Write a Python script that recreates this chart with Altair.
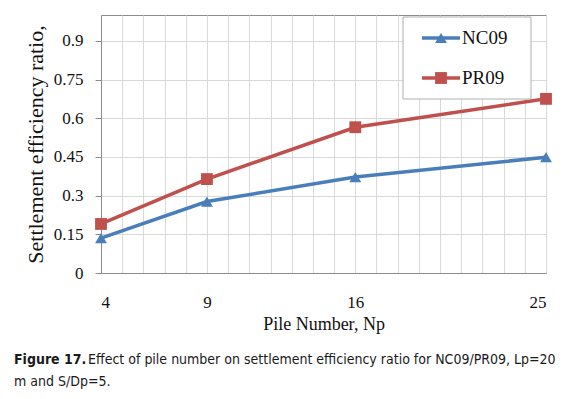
import altair as alt
import pandas as pd

pile_numbers = [4, 9, 16, 25]
series_names = ["NC09", "PR09"]
nc09 = [0.135, 0.277, 0.372, 0.449]
pr09 = [0.19, 0.364, 0.565, 0.675]
y_ticks = [0, 0.15, 0.3, 0.45, 0.6, 0.75, 0.9]
x_grid = list(range(4, 26))

colors = ["#4A7EBB", "#C0504D"]
shapes = ["triangle-up", "square"]

rows = []
for name, vals in zip(series_names, [nc09, pr09]):
    for n, v in zip(pile_numbers, vals):
        rows.append({"series": name, "Np": n, "ratio": v})
df = pd.DataFrame(rows)
one = pd.DataFrame({"k": [0]})

SERIF = "Liberation Serif"
GRAY = "#8c8c8c"

x = alt.X(
    "Np:Q",
    scale=alt.Scale(domain=[4, 25], nice=False, zero=False),
    axis=alt.Axis(
        values=x_grid,
        labelExpr="indexof([4,9,16,25], datum.value) >= 0 ? datum.label : ''",
        labelOverlap=False,
        ticks=False,
        labelPadding=21,
        labelFont=SERIF,
        labelFontSize=17,
        labelColor="#111",
        title="Pile Number, Np",
        titleFont=SERIF,
        titleFontSize=18,
        titleFontWeight="normal",
        titleColor="#111",
        titlePadding=5,
        gridColor="#d9d9d9",
        domainColor=GRAY,
    ),
)
y = alt.Y(
    "ratio:Q",
    scale=alt.Scale(domain=[0, 1.0], nice=False),
    axis=alt.Axis(
        values=y_ticks,
        labelExpr="format(datum.value, '~g')",
        tickSize=6,
        tickColor=GRAY,
        labelPadding=12,
        labelFont=SERIF,
        labelFontSize=17,
        labelColor="#111",
        title="Settlement efficiency ratio,",
        titleFont=SERIF,
        titleFontSize=22,
        titleFontWeight="normal",
        titleColor="#111",
        titlePadding=6,
        gridColor="#d9d9d9",
        domainColor=GRAY,
    ),
)
color = alt.Color("series:N", scale=alt.Scale(domain=series_names, range=colors), legend=None)
shape = alt.Shape("series:N", scale=alt.Scale(domain=series_names, range=shapes), legend=None)

lines = alt.Chart(df).mark_line(strokeWidth=3.5).encode(x=x, y=y, color=color, detail="series:N")
points = alt.Chart(df).mark_point(filled=True, opacity=1, size=140).encode(
    x=x, y=y, color=color, shape=shape
)

# Manual legend box
layers = [lines, points]
layers.append(
    alt.Chart(one).mark_rect(fill="white", stroke="#b0b0b0", strokeWidth=1).encode(
        x=alt.value(302), x2=alt.value(430), y=alt.value(2), y2=alt.value(84)
    )
)
leg_y = [23, 63]
for name, c, s, ly in zip(series_names, colors, shapes, leg_y):
    layers.append(
        alt.Chart(one).mark_rule(color=c, strokeWidth=3.5).encode(
            x=alt.value(321), x2=alt.value(359), y=alt.value(ly)
        )
    )
    layers.append(
        alt.Chart(one).mark_point(filled=True, opacity=1, size=140, color=c, shape=s).encode(
            x=alt.value(340), y=alt.value(ly)
        )
    )
    layers.append(
        alt.Chart(one).mark_text(
            text=name, font=SERIF, fontSize=19, align="left", baseline="middle", color="#111"
        ).encode(x=alt.value(361), y=alt.value(ly))
    )

# Caption
CAP = "DejaVu Sans Condensed"
layers.append(
    alt.Chart(one).mark_text(
        text="Figure 17.", font=CAP, fontSize=14, fontWeight="bold", align="left",
        baseline="middle", color="#1a1a1a"
    ).encode(x=alt.value(-87), y=alt.value(345))
)
layers.append(
    alt.Chart(one).mark_text(
        text="Effect of pile number on settlement efficiency ratio for NC09/PR09, Lp=20",
        font=CAP, fontSize=14, align="left", baseline="middle", color="#1a1a1a"
    ).encode(x=alt.value(-13), y=alt.value(345))
)
layers.append(
    alt.Chart(one).mark_text(
        text="m and S/Dp=5.", font=CAP, fontSize=14, align="left",
        baseline="middle", color="#1a1a1a"
    ).encode(x=alt.value(-87), y=alt.value(367))
)

chart = (
    alt.layer(*layers)
    .properties(
        width=445,
        height=258,
        autosize=alt.AutoSizeParams(type="none"),
        padding={"left": 93, "top": 7, "right": 17, "bottom": 118},
    )
    .configure_view(stroke=GRAY, strokeWidth=1)
)

chart.save("out.html", embed_options={"renderer": "svg", "actions": False})
